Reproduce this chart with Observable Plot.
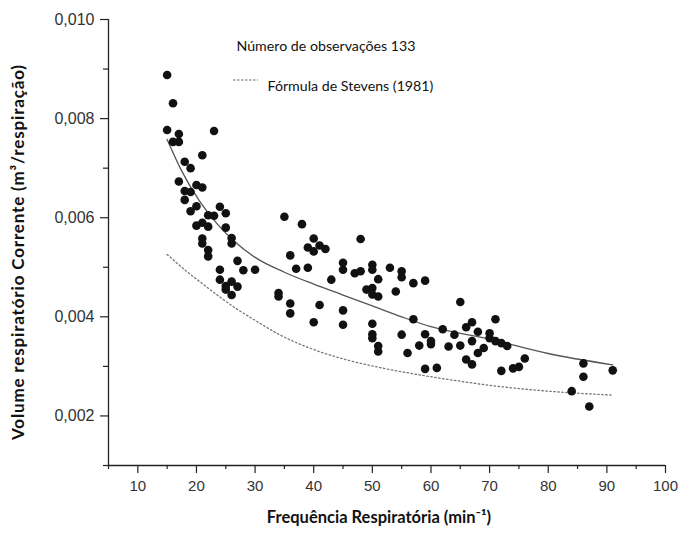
<!DOCTYPE html>
<html>
<head>
<meta charset="utf-8">
<script src="https://cdn.jsdelivr.net/npm/d3@7"></script>
<script src="https://cdn.jsdelivr.net/npm/@observablehq/plot@0.6"></script>
<style>
  html, body { margin: 0; padding: 0; background: #fff; }
  #chart svg { display: block; }
</style>
</head>
<body>
<div id="chart"></div>
<script>
// Observations: respiratory frequency (min^-1) and tidal volume (m³/respiração)
const freq = [15,16,15,17,16,17,23,18,19,21,17,18,19,20,21,18,20,19,24,25,22,23,20,21,22,25,21,21,22,22,26,26,27,24,28,30,24,26,25,25,27,26,34,34,35,38,40,39,40,41,42,48,36,37,39,45,45,43,47,48,50,50,53,55,55,51,57,59,49,50,50,51,54,36,36,41,45,40,45,50,50,50,51,51,55,57,59,60,60,58,56,59,61,65,62,63,64,65,66,67,67,68,71,70,70,71,72,73,69,68,66,67,76,75,74,72,86,86,84,87,91];
const volume = [0.00888,0.00831,0.00777,0.00769,0.00753,0.00753,0.00775,0.00713,0.00700,0.00726,0.00673,0.00654,0.00652,0.00666,0.00661,0.00636,0.00623,0.00613,0.00622,0.00609,0.00605,0.00604,0.00584,0.00590,0.00582,0.00580,0.00558,0.00548,0.00535,0.00522,0.00559,0.00548,0.00513,0.00495,0.00494,0.00495,0.00475,0.00471,0.00462,0.00455,0.00461,0.00444,0.00448,0.00441,0.00602,0.00587,0.00558,0.00540,0.00532,0.00544,0.00537,0.00557,0.00524,0.00497,0.00499,0.00509,0.00495,0.00475,0.00488,0.00492,0.00505,0.00495,0.00499,0.00492,0.00480,0.00476,0.00468,0.00473,0.00455,0.00458,0.00445,0.00441,0.00451,0.00427,0.00407,0.00424,0.00413,0.00389,0.00384,0.00386,0.00365,0.00357,0.00341,0.00330,0.00364,0.00395,0.00365,0.00351,0.00345,0.00342,0.00327,0.00295,0.00297,0.00430,0.00375,0.00340,0.00364,0.00342,0.00379,0.00389,0.00351,0.00370,0.00395,0.00367,0.00357,0.00351,0.00347,0.00341,0.00337,0.00327,0.00314,0.00304,0.00316,0.00299,0.00296,0.00291,0.00306,0.00279,0.00250,0.00219,0.00292];

// Fitted curve
const fitX = [15, 17.5, 20.5, 23.5, 26.5, 30, 35, 40, 45, 50, 55, 60, 70, 80, 91];
const fitY = [0.00758, 0.00694, 0.00634, 0.00588, 0.00552, 0.00520, 0.00490, 0.00466, 0.00444, 0.00422, 0.00400, 0.00380, 0.00355, 0.00326, 0.00303];

// Stevens (1981) curve
const stevensX = [15, 18, 21, 24, 27, 30, 34, 40, 46, 52, 58, 65, 72, 80, 91];
const stevensY = [0.00526, 0.00495, 0.00467, 0.00440, 0.00415, 0.00393, 0.00365, 0.00334, 0.00312, 0.00296, 0.00283, 0.00270, 0.00259, 0.00250, 0.00242];

// Axis ticks
const xTicks = [10, 20, 30, 40, 50, 60, 70, 80, 90, 100];
const xMinor = [5, 15, 25, 35, 45, 55, 65, 75, 85, 95];
const yTicks = [0.002, 0.004, 0.006, 0.008, 0.010];
const yMinor = [0.001, 0.003, 0.005, 0.007, 0.009];

// Texts
const xTitle = "Frequência Respiratória (min⁻¹)";
const yTitle = "Volume respiratório Corrente (m³/respiração)";
const legendCount = "Número de observações 133";
const legendStevens = "Fórmula de Stevens (1981)";

const points = freq.map((f, i) => ({f, v: volume[i]}));
const fit = fitX.map((x, i) => ({x, y: fitY[i]}));
const stevens = stevensX.map((x, i) => ({x, y: stevensY[i]}));

const fmt = d => d3.format(".3f")(d).replace(".", ",");
const tickFont = "Liberation Sans, Arial, sans-serif";
const titleFont = "Lato, 'Open Sans', sans-serif";

const chart = Plot.plot({
  width: 683,
  height: 533,
  marginLeft: 108,
  marginRight: 18,
  marginTop: 19,
  marginBottom: 68,
  style: {background: "#fff", color: "#222", fontFamily: tickFont},
  x: {domain: [5, 100]},
  y: {domain: [0.001, 0.010]},
  marks: [
    Plot.axisX({ticks: xTicks, tickSize: 8, tickPadding: 7, fontSize: 15, fill: "#333", stroke: "#222", strokeWidth: 1.2, label: null}),
    Plot.axisX({ticks: xMinor, tickSize: 4, tickFormat: () => "", stroke: "#222", strokeWidth: 1.2, label: null}),
    Plot.axisY({ticks: yTicks, tickSize: 8, tickPadding: 6, fontSize: 16, fill: "#333", stroke: "#222", strokeWidth: 1.2, tickFormat: fmt, label: null}),
    Plot.axisY({ticks: yMinor, tickSize: 5, tickFormat: () => "", stroke: "#222", strokeWidth: 1.2, label: null}),
    Plot.ruleX([5], {stroke: "#222", strokeWidth: 1.3}),
    Plot.ruleY([0.001], {stroke: "#222", strokeWidth: 1.3}),
    Plot.line(stevens, {x: "x", y: "y", curve: "monotone-x", stroke: "#777", strokeWidth: 1.3, strokeDasharray: "1.5,2.5"}),
    Plot.line(fit, {x: "x", y: "y", curve: "monotone-x", stroke: "#555", strokeWidth: 1.3}),
    Plot.dot(points, {x: "f", y: "v", r: 4.3, fill: "#111", stroke: "none"}),
    Plot.text([xTitle], {frameAnchor: "bottom", text: d => d, textAnchor: "middle", dx: -8, dy: 57, fontSize: 16.5, fontWeight: "bold", fontFamily: titleFont, fill: "#111"}),
    Plot.text([yTitle], {frameAnchor: "left", text: d => d, textAnchor: "middle", rotate: -90, dx: -90, dy: 10, fontSize: 17, fontWeight: "bold", fontFamily: titleFont, fill: "#111"}),
    Plot.text([legendCount], {frameAnchor: "top-left", text: d => d, textAnchor: "start", dx: 128, dy: 21, fontSize: 14.2, fontFamily: titleFont, fill: "#111"}),
    Plot.text([legendStevens], {frameAnchor: "top-left", text: d => d, textAnchor: "start", dx: 159, dy: 61, fontSize: 14.2, fontFamily: titleFont, fill: "#111"})
  ]
});

// Stretch the y title to the reference's length
d3.select(chart).selectAll("text")
  .filter(function() { return this.textContent === yTitle; })
  .attr("textLength", 375).attr("lengthAdjust", "spacing");

// Legend line sample for the dotted Stevens curve
d3.select(chart).append("line")
  .attr("x1", 233).attr("x2", 258).attr("y1", 80).attr("y2", 80)
  .attr("stroke", "#666").attr("stroke-width", 1.2).attr("stroke-dasharray", "2.5,1.5");

document.getElementById("chart").appendChild(chart);
</script>
</body>
</html>
